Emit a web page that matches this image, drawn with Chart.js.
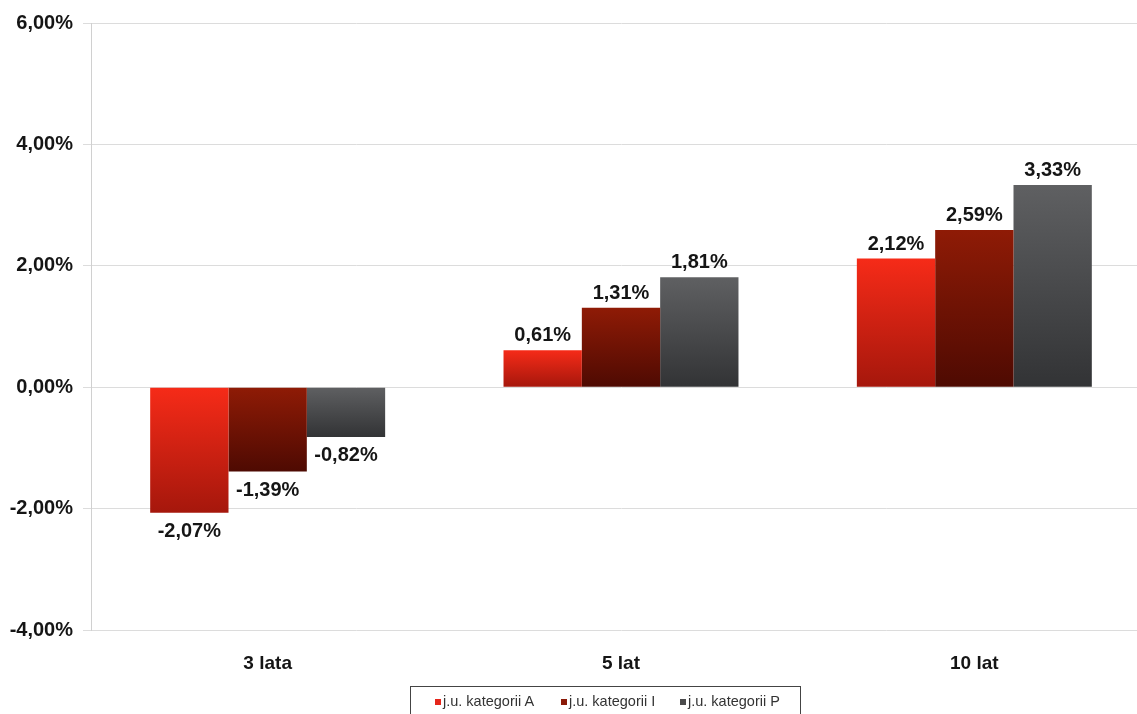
<!DOCTYPE html>
<html>
<head>
<meta charset="utf-8">
<script src="https://cdn.jsdelivr.net/npm/chart.js@4"></script>
<style>
    body { margin:0; background:#fff; overflow:hidden; }
    .wrap { position:relative; width:1152px; height:714px; }
    .legend_box {
        position:absolute; left:410px; top:686px; width:391px; height:40px;
        border:1px solid #444; box-sizing:border-box;
        font:14.5px "Liberation Sans", Arial, sans-serif; color:#333;
    }
    .legend_item { position:absolute; top:6px; white-space:nowrap; }
    .legend_item i { display:inline-block; width:6px; height:6px; margin-right:2px; vertical-align:1px; }
</style>
</head>
<body>
<div class="wrap">
    <canvas id="ret_chart"></canvas>
    <div class="legend_box" id="legend"></div>
</div>
<script>
let periods = ["3 lata", "5 lat", "10 lat"];
let seriesNames = ["j.u. kategorii A", "j.u. kategorii I", "j.u. kategorii P"];
let katA = [-2.07, 0.61, 2.12];
let katI = [-1.39, 1.31, 2.59];
let katP = [-0.82, 1.81, 3.33];

// top / bottom of each bar's gradient
let gradTop = ["#f62b18", "#8f1b06", "#5f6062"];
let gradBottom = ["#a5170c", "#4e0a02", "#323335"];
let legendColors = ["#e5261b", "#8a1a08", "#4b4b4c"];
let legendLeft = [24, 150, 269];

function fmt(v) {
    return v.toFixed(2).replace(".", ",") + "%";
}

function barGradient(idx) {
    return function(ctx) {
        let chart = ctx.chart;
        if (!chart.chartArea || ctx.parsed === undefined) return gradTop[idx];
        let y = chart.scales.y;
        let p1 = y.getPixelForValue(ctx.parsed.y);
        let p0 = y.getPixelForValue(0);
        let top = Math.min(p0, p1), bottom = Math.max(p0, p1);
        if (bottom - top < 1) return gradTop[idx];
        let g = chart.ctx.createLinearGradient(0, top, 0, bottom);
        g.addColorStop(0, gradTop[idx]);
        g.addColorStop(1, gradBottom[idx]);
        return g;
    };
}

let valueLabels = {
    id: "valueLabels",
    afterDatasetsDraw(chart) {
        let c = chart.ctx;
        c.save();
        c.font = "bold 20px 'Liberation Sans', Arial, sans-serif";
        c.fillStyle = "#151515";
        c.textAlign = "center";
        c.textBaseline = "alphabetic";
        chart.data.datasets.forEach(function(ds, i){
            chart.getDatasetMeta(i).data.forEach(function(bar, j){
                let v = ds.data[j];
                if (v >= 0) c.fillText(fmt(v), bar.x, bar.y - 9);
                else c.fillText(fmt(v), bar.x, bar.y + 24);
            });
        });
        c.restore();
    }
};

let sets = [katA, katI, katP];
let retChart = new Chart(document.getElementById("ret_chart"), {
    type: "bar",
    data: {
        labels: periods,
        datasets: sets.map(function(d, i){
            return {
                label: seriesNames[i],
                data: d,
                backgroundColor: barGradient(i),
                borderWidth: 0,
                categoryPercentage: 0.665,
                barPercentage: 1
            };
        })
    },
    options: {
        responsive: true,
        maintainAspectRatio: false,
        animation: false,
        layout: { padding: { left: 8, top: 23, right: 1, bottom: 0 } },
        plugins: {
            legend: { display: false },
            tooltip: { enabled: false }
        },
        scales: {
            x: {
                grid: { display: false, drawTicks: false },
                border: { display: false },
                ticks: {
                    padding: 22,
                    color: "#151515",
                    font: { family: "'Liberation Sans', Arial", size: 19, weight: "bold" }
                },
                afterFit: function(s){ s.height = 84; }
            },
            y: {
                min: -4,
                max: 6,
                grid: { color: "#dcdcdc", tickLength: 8, tickColor: "#dcdcdc" },
                border: { color: "#d0d0d0" },
                ticks: {
                    stepSize: 2,
                    padding: 10,
                    color: "#151515",
                    font: { family: "'Liberation Sans', Arial", size: 20, weight: "bold" },
                    callback: function(v){ return fmt(v); }
                },
                afterFit: function(s){ s.width = 83; }
            }
        }
    },
    plugins: [valueLabels]
});

let legend = document.getElementById("legend");
seriesNames.forEach(function(n, i){
    let item = document.createElement("span");
    item.className = "legend_item";
    item.style.left = legendLeft[i] + "px";
    item.innerHTML = '<i style="background:' + legendColors[i] + '"></i>' + n;
    legend.appendChild(item);
});
</script>
</body>
</html>
